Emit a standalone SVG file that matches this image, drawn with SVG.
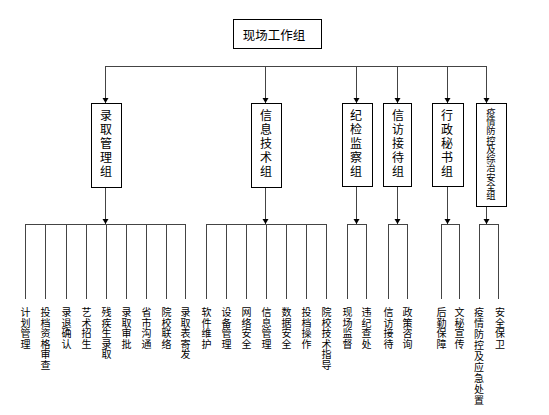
<svg xmlns="http://www.w3.org/2000/svg" width="549" height="415" viewBox="0 0 549 415">
<defs>
<marker id="ah" markerUnits="userSpaceOnUse" markerWidth="8" markerHeight="8" refX="5" refY="0" viewBox="0 -4 6 8" orient="auto"><path d="M0,-3 L5,0 L0,3 z" fill="#000"/></marker>
<style>
.box{fill:#fff;stroke:#000;stroke-width:1}
.ln{fill:none;stroke:#444;stroke-width:1}
.arr{fill:none;stroke:#444;stroke-width:1;marker-end:url(#ah)}
text{font-family:"Noto Sans CJK SC","Noto Sans CJK JP",sans-serif;fill:#000}
.v{writing-mode:vertical-rl;text-orientation:upright}
.b{font-size:12px;letter-spacing:2px}
.l{font-size:10px;letter-spacing:0.5px}
</style>
</defs>
<rect width="549" height="415" fill="#fff"/>
<g id="connectors">
<path class="ln" d="M105,66.5 H486"/>
<path class="arr" d="M105.5,66 V103"/>
<path class="arr" d="M265.5,66 V103"/>
<path class="arr" d="M356.5,66 V103"/>
<path class="arr" d="M397.5,66 V103"/>
<path class="arr" d="M447.5,66 V103"/>
<path class="arr" d="M486.5,66 V103"/>
<path class="arr" d="M105.5,187 V224"/>
<path class="arr" d="M265.5,187 V224"/>
<path class="arr" d="M356.5,186 V224"/>
<path class="arr" d="M397.5,186 V224"/>
<path class="arr" d="M447.5,186 V224"/>
<path class="arr" d="M486.5,206 V224"/>
<path class="ln" d="M25,224.5 H186 M206,224.5 H327 M347,224.5 H367 M388,224.5 H407 M441,224.5 H460 M479,224.5 H499"/>
<path class="ln" d="M25.5,224 V299 M45.5,224 V299 M66.5,224 V299 M86.5,224 V299 M106.5,224 V299 M126.5,224 V299 M146.5,224 V299 M166.5,224 V299 M185.5,224 V299"/>
<path class="ln" d="M206.5,224 V299 M226.5,224 V299 M246.5,224 V299 M266.5,224 V299 M286.5,224 V299 M306.5,224 V299 M326.5,224 V299"/>
<path class="ln" d="M347.5,224 V299 M366.5,224 V299 M388.5,224 V299 M407.5,224 V299 M441.5,224 V299 M459.5,224 V299 M479.5,224 V299 M498.5,224 V299"/>
</g>
<g id="top">
<rect class="box" x="233.5" y="19.5" width="88" height="29"/>
<text x="274" y="40" style="font-size:12.5px;text-anchor:middle">现场工作组</text>
</g>
<g id="g1">
<rect class="box" x="91.5" y="103.5" width="30" height="84"/>
<text class="v b" x="106" y="109">录取管理组</text>
</g>
<g id="g2">
<rect class="box" x="251.5" y="103.5" width="30" height="84"/>
<text class="v b" x="266" y="109">信息技术组</text>
</g>
<g id="g3">
<rect class="box" x="342.5" y="103.5" width="30" height="83"/>
<text class="v b" x="356" y="109">纪检监察组</text>
</g>
<g id="g4">
<rect class="box" x="383.5" y="103.5" width="28" height="83"/>
<text class="v b" x="398" y="109">信访接待组</text>
</g>
<g id="g5">
<rect class="box" x="432.5" y="103.5" width="31" height="83"/>
<text class="v b" x="447" y="109">行政秘书组</text>
</g>
<g id="g6">
<rect class="box" x="476.5" y="103.5" width="30" height="103"/>
<text class="v" x="491" y="107.5" style="font-size:9.3px">疫情防控及综治安全组</text>
</g>
<g id="leaves">
<text class="v l" x="25.5" y="307.5">计划管理</text>
<text class="v l" x="45.5" y="307.5">投档资格审查</text>
<text class="v l" x="66.5" y="307.5">录退确认</text>
<text class="v l" x="86.5" y="307.5">艺术招生</text>
<text class="v l" x="106.5" y="307.5">残疾生录取</text>
<text class="v l" x="126.5" y="307.5">录取审批</text>
<text class="v l" x="146.5" y="307.5">省市沟通</text>
<text class="v l" x="166.5" y="307.5">院校联络</text>
<text class="v l" x="185.5" y="307.5">录取表寄发</text>
<text class="v l" x="206.5" y="307.5">软件维护</text>
<text class="v l" x="226.5" y="307.5">设备管理</text>
<text class="v l" x="246.5" y="307.5">网络安全</text>
<text class="v l" x="266.5" y="307.5">信息管理</text>
<text class="v l" x="286.5" y="307.5">数据安全</text>
<text class="v l" x="306.5" y="307.5">投档操作</text>
<text class="v l" x="326.5" y="307.5">院校技术指导</text>
<text class="v l" x="347.5" y="307.5">现场监督</text>
<text class="v l" x="366.5" y="307.5">违纪查处</text>
<text class="v l" x="388.5" y="307.5">信访接待</text>
<text class="v l" x="407.5" y="307.5">政策咨询</text>
<text class="v l" x="441.5" y="307.5">后勤保障</text>
<text class="v l" x="459.5" y="307.5">文秘宣传</text>
<text class="v" x="479" y="307.5" style="font-size:10px;letter-spacing:1px">疫情防控及应急处置</text>
<text class="v l" x="500" y="307.5">安全保卫</text>
</g>
</svg>
